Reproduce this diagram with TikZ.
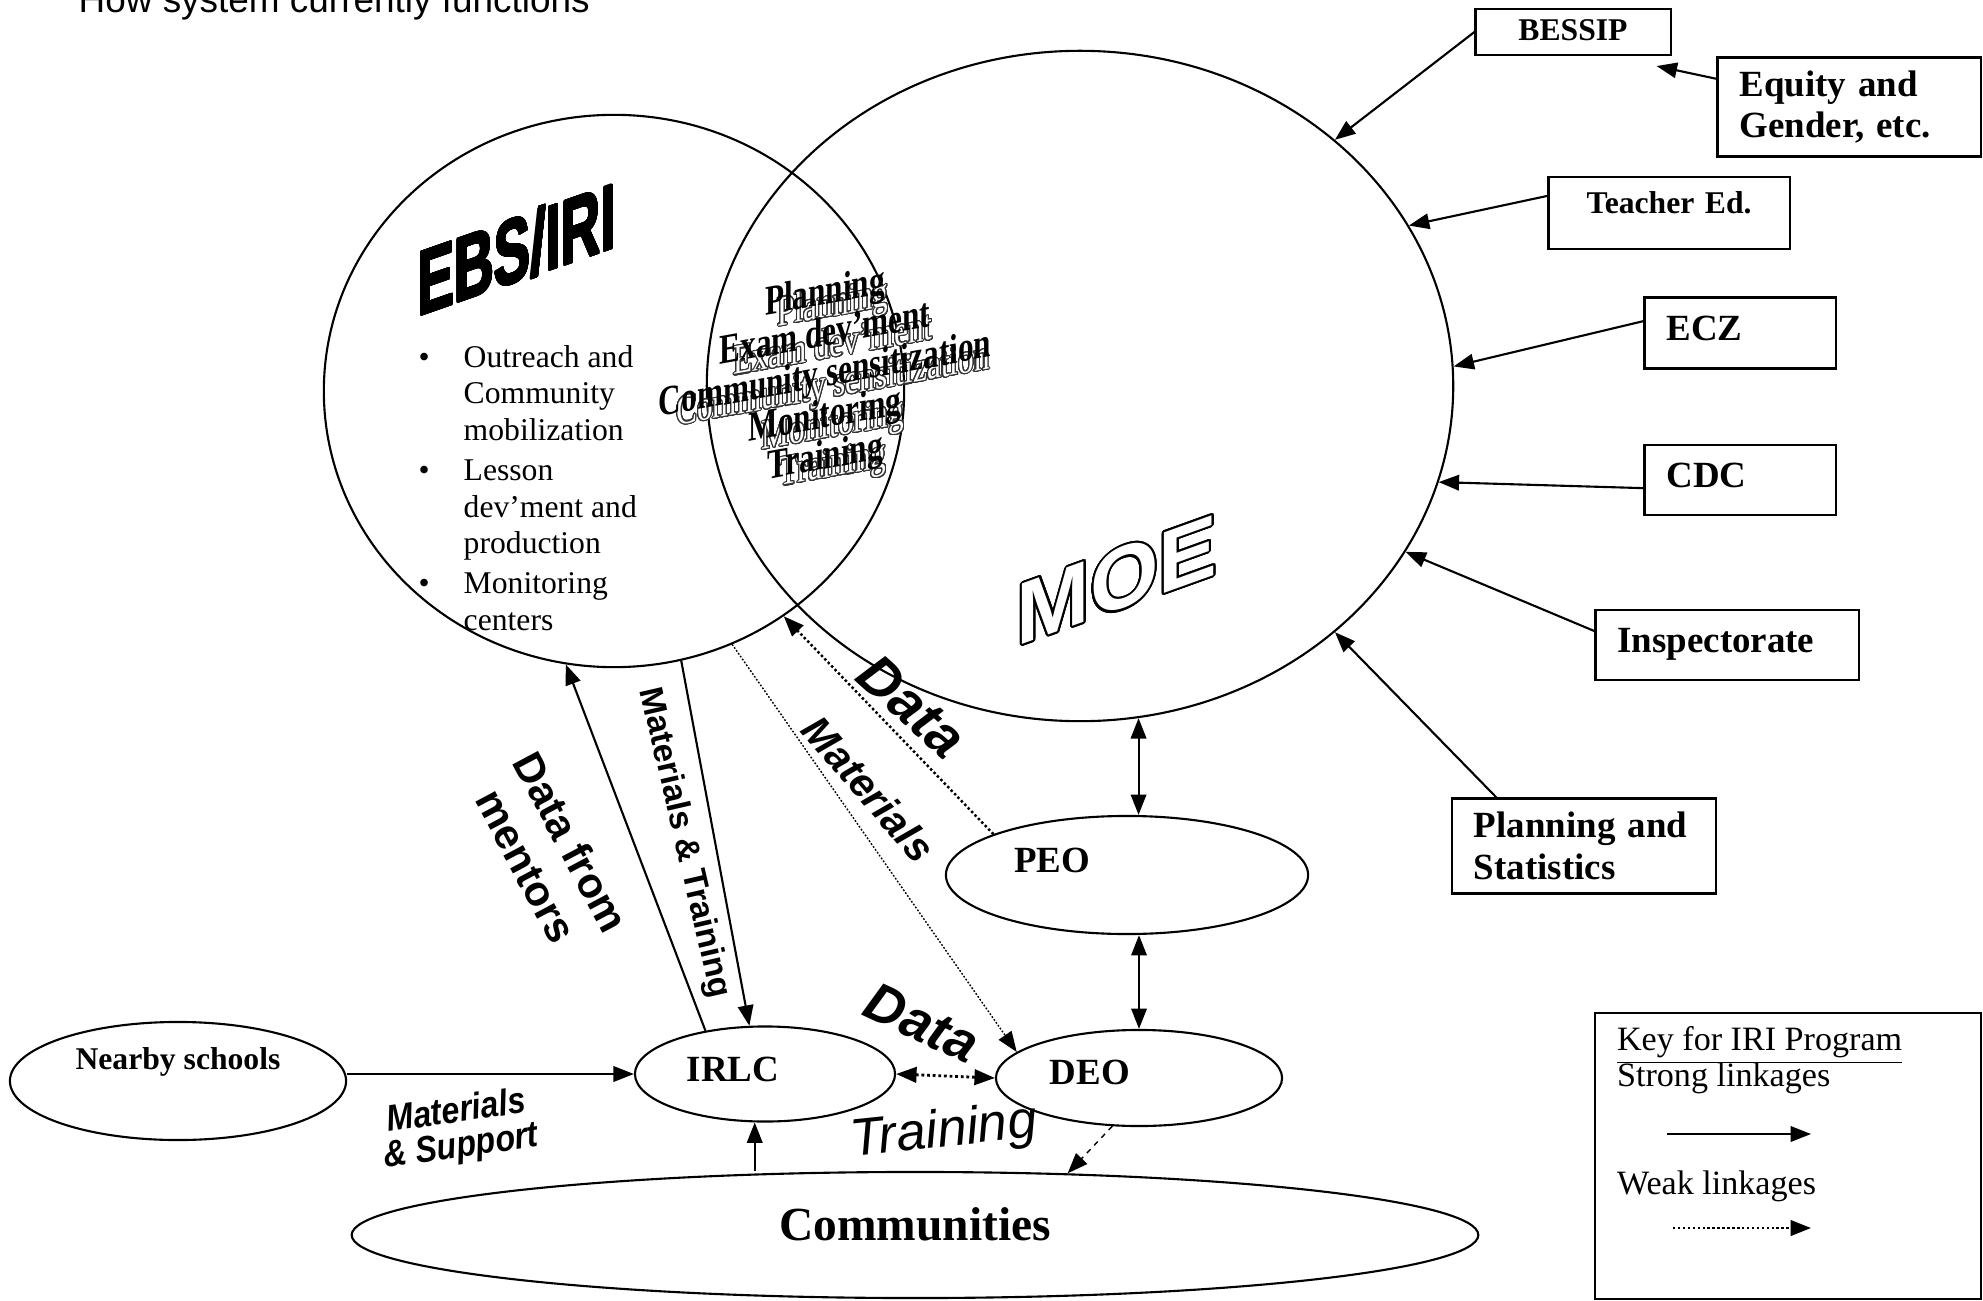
\documentclass[tikz,border=0pt]{standalone}
\usepackage{fontspec}
\usepackage{graphicx}
\setmainfont{Liberation Serif}
\newfontfamily\artsans{Liberation Sans}
\usepackage[copies]{contour}
\usetikzlibrary{arrows.meta,positioning,shapes.geometric}
\contourlength{0.55pt}
\contournumber{32}
\newcommand{\orgfont}{\fontsize{10.5}{11.9}\selectfont\bfseries}
\newcommand{\orgsmallfont}{\fontsize{9}{10.5}\selectfont\bfseries}
\newcommand{\bulletfont}{\fontsize{9}{10.4}\selectfont}
\newcommand{\overlapfont}{\fontsize{12}{11.2}\selectfont}
\newcommand{\legendfont}{\fontsize{9.7}{11}\selectfont}
\newcommand{\sharedlist}{\scalebox{0.74}[1]{\begin{tabular}{@{}c@{}}Planning\\Exam dev'ment\\Community sensitization\\Monitoring\\Training\end{tabular}}}
\tikzset{main oval/.style={draw,ellipse,line width=0.6pt,inner sep=0pt},
    org box/.style={draw,rectangle,line width=0.6pt,inner xsep=0.22cm,inner ysep=0pt,align=left,font=\orgfont},
    one line/.style={text depth=0.09cm},
    strong/.style={-{Triangle[length=5.8pt,width=4.4pt]},line width=0.6pt},
    strong both/.style={{Triangle[length=5.8pt,width=4.4pt]}-{Triangle[length=5.8pt,width=4.4pt]},line width=0.6pt},
    weak/.style={strong,line width=0.7pt,dash pattern=on 0.7pt off 0.7pt},
    art/.style={inner sep=0pt},
}

\begin{document}
\begin{tikzpicture}[x=0.01cm,y=-0.01cm]
    \useasboundingbox (0,0) rectangle (1983,1301);
    \node[anchor=base west,inner sep=0pt,font=\artsans\fontsize{10.5}{12}\selectfont] (title) at (78,13) {How system currently functions};

    % the two big circles
    \node[main oval,minimum width=5.80cm,minimum height=5.52cm] (ebs) at (614,391) {};
    \node[main oval,minimum width=7.46cm,minimum height=6.70cm] (moe) at (1080,386) {};

    \node[art,font=\artsans\bfseries\fontsize{26}{28}\selectfont,yslant=0.35] (ebstitle) at (517,250) {\scalebox{0.6}[1]{\contourlength{0.35pt}\contour{black}{EBS/IRI}}};
    \node[art,font=\artsans\bfseries\fontsize{25}{27}\selectfont,text=white,yslant=0.36] (moetitle) at (1117,581) {\contour{black}{MOE}};

    \node[anchor=north west,inner sep=0pt,font=\bulletfont] (tasks) at (418,341) {%
      \begin{tabular}{@{}p{0.45cm}@{}l@{}}
      \textbullet & Outreach and\\
       & Community\\
       & mobilization\\[1pt]
      \textbullet & Lesson\\
       & dev’ment and\\
       & production\\[1pt]
      \textbullet & Monitoring\\
       & centers
      \end{tabular}};

    \node[art,font=\overlapfont,text=white,yslant=0.18] (sharedshadow) at (833,388) {\contourlength{0.3pt}\contour{black!80}{\sharedlist}};
    \node[art,font=\overlapfont\bfseries,yslant=0.18] (shared) at (825,378) {\sharedlist};

    % offices
    \node[main oval,minimum width=3.62cm,minimum height=1.18cm,
          label={[xshift=-0.75cm,yshift=0.15cm,font=\orgfont]center:PEO}] (peo) at (1127,875) {};
    \node[main oval,minimum width=2.86cm,minimum height=0.96cm,
          label={[xshift=-0.49cm,yshift=0.06cm,font=\orgfont]center:DEO}] (deo) at (1139,1078) {};
    \node[main oval,minimum width=2.60cm,minimum height=0.95cm,
          label={[xshift=-0.32cm,yshift=0.05cm,font=\orgfont]center:IRLC}] (irlc) at (765,1074) {};
    \node[main oval,minimum width=3.36cm,minimum height=1.18cm,
          label={[yshift=0.19cm,font=\orgsmallfont]center:Nearby schools}] (schools) at (178,1081) {};
    \node[main oval,minimum width=11.26cm,minimum height=1.26cm,
          label={[yshift=0.11cm,font=\fontsize{13.5}{15}\selectfont\bfseries]center:Communities}] (comm) at (915,1235) {};

    % partners of the ministry
    \node[org box,one line,font=\orgsmallfont,align=center,text width=1.51cm,minimum height=0.46cm,text depth=0.03cm] (bessip) at (1573,32) {BESSIP};
    \node[org box,text width=2.19cm,minimum height=0.99cm] (equity) at (1849,107) {Equity and\\Gender, etc.};
    \node[org box,font=\orgsmallfont,align=center,text width=1.97cm,minimum height=0.72cm,text depth=0.2cm] (teached) at (1669,213) {Teacher Ed.};
    \node[org box,one line,text width=1.47cm,minimum height=0.71cm] (ecz) at (1740,333) {ECZ};
    \node[org box,one line,text width=1.47cm,minimum height=0.70cm,below=0.74cm of ecz] (cdc) {CDC};
    \node[org box,one line,text width=2.19cm,minimum height=0.70cm] (insp) at (1727,645) {Inspectorate};
    \node[org box,text width=2.20cm,minimum height=0.95cm] (plan) at (1584,846) {Planning and\\Statistics};

    % key
    \node[draw,rectangle,line width=0.6pt,minimum width=3.85cm,minimum height=2.85cm] (key) at (1788,1156) {};
    \node[anchor=base west,inner sep=0pt,font=\legendfont] (keytitle) at ([xshift=0.22cm,yshift=-0.38cm]key.north west) {\underline{Key for IRI Program}};
    \node[inner sep=0pt,font=\legendfont,below=0.36cm of keytitle.base west,anchor=base west] (strongkey) {Strong linkages};
    \node[inner sep=0pt,font=\legendfont,below=1.08cm of strongkey.base west,anchor=base west] (weakkey) {Weak linkages};
    \coordinate (stronga) at (1667,1134);
    \coordinate (strongb) at (1811,1134);
    \coordinate (weaka) at (1673,1228);
    \coordinate (weakb) at (1811,1228);

    % link labels
    \node[art,font=\artsans\bfseries\itshape\fontsize{16}{18}\selectfont,rotate=-42] (dataup) at (912,706) {Data};
    \node[art,font=\artsans\bfseries\itshape\fontsize{11.6}{13}\selectfont,rotate=-49] (matup) at (869,789) {Materials};
    \node[art,font=\artsans\bfseries\fontsize{9.5}{11}\selectfont,rotate=-77] (mattrain) at (684,843) {Materials \& Training};
    \node[art,font=\artsans\bfseries\fontsize{12}{14.5}\selectfont,align=center,rotate=-62] (mentors) at (549,854) {Data from\\mentors};
    \node[art,font=\artsans\bfseries\itshape\fontsize{15.5}{17}\selectfont,rotate=-25] (datadeo) at (922,1023) {Data};
    \node[art,font=\artsans\itshape\fontsize{15}{16}\selectfont,rotate=6] (training) at (944,1133) {Training};
    \node[art,font=\artsans\bfseries\itshape\fontsize{10.5}{9}\selectfont,rotate=8] (support) at (459,1131) {\scalebox{0.87}[1]{\begin{tabular}{@{}c@{}}Materials\\\& Support\end{tabular}}};

    \path[strong]
	(bessip.west) edge (moe.44)
	(equity.168) edge ([xshift=-0.15cm,yshift=-0.1cm]bessip.south east)
	(teached.172) edge (moe.26)
	(ecz.173) edge (moe.3)
	(cdc.185) edge (moe.-15)
	(insp.174) edge (moe.-27)
	(plan.151) edge (moe.-44)
	(schools.east |- irlc.west) edge (irlc.west)
	(irlc.258 |- comm.north) edge (irlc.258)
	(irlc.144) edge (ebs.-100)
	(ebs.-76) edge (irlc.108)
	(stronga) edge (strongb);
    \path[strong both]
	(moe.-80) edge (moe.-80 |- peo.north)
	(deo.north |- peo.south) edge (deo.north);
    \path[weak]
	(peo.163) edge (ebs.-53)
	(weaka) edge (weakb);
    \draw[strong,line width=0.4pt,dash pattern=on 0.5pt off 0.5pt] (ebs.-65) -- (deo.168);
    \draw[strong,line width=0.4pt,dash pattern=on 1.5pt off 1.5pt] (deo.-119) -- (comm.22);
    \draw[strong both,line width=0.8pt,dash pattern=on 0.8pt off 0.8pt] (irlc.east) -- (deo.west);
\end{tikzpicture}
\end{document}
